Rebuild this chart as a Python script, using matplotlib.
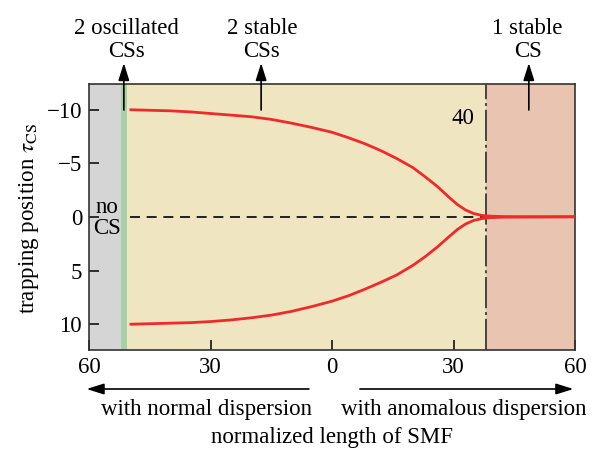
import matplotlib
matplotlib.use("Agg")
import matplotlib.pyplot as plt

plt.rcParams['font.family'] = ['Liberation Serif', 'DejaVu Serif']
plt.rcParams['mathtext.fontset'] = 'stix'
plt.rcParams['font.size'] = 16.5

# ---- data ----
# signed x: negative = normal dispersion side, positive = anomalous side
x_upper = [-50, -45, -40, -35, -30, -25, -20, -15, -10, -5, 0, 4, 8, 12, 16, 20, 23, 26, 29, 31, 33, 35, 37, 39, 42, 48, 60]
tau_upper = [-10.0, -9.95, -9.9, -9.8, -9.65, -9.5, -9.35, -9.1, -8.75, -8.35, -7.9, -7.4, -6.85, -6.2, -5.45,
             -4.6, -3.75, -2.85, -1.8, -1.15, -0.65, -0.32, -0.15, -0.08, -0.04, -0.02, -0.02]
x_lower = [-50, -45, -40, -35, -30, -25, -20, -15, -10, -5, 0, 4, 8, 12, 16, 20, 23, 26, 29, 31, 33, 35, 37, 39, 42, 48, 60]
tau_lower = [10.0, 9.95, 9.9, 9.85, 9.75, 9.6, 9.4, 9.15, 8.8, 8.35, 7.85, 7.35, 6.75, 6.1, 5.4,
             4.5, 3.7, 2.8, 1.8, 1.15, 0.65, 0.32, 0.15, 0.06, 0.02, 0.0, -0.02]

xticks = [-60, -30, 0, 30, 60]
xticklabels = ['60', '30', '0', '30', '60']
yticks = [-10, -5, 0, 5, 10]
yticklabels = ['\u221210', '\u22125', '0', '5', '10']

region_edges = [-60, -52, -50.5, 38, 60]
region_colors = ['#d5d5d5', '#a9cfa9', '#efe5c1', '#e8c4b1']

threshold_x = 38
threshold_label = '40'

fig = plt.figure(figsize=(5.97, 4.51), dpi=100)
ax = fig.add_axes([89/597, 1-350/451, (575-89)/597, (350-84)/451])

for i, c in enumerate(region_colors):
    ax.axvspan(region_edges[i], region_edges[i+1], color=c, lw=0, zorder=0)

ax.plot([-50, threshold_x], [0, 0], color='black', lw=1.2, ls=(0, (6, 4)), zorder=2)
ax.axvline(threshold_x, color='#444444', lw=1.4, ls=(0, (16, 2, 1.5, 2)), zorder=2)

ax.plot(x_upper, tau_upper, color='#ee2a2a', lw=2.0, zorder=3, solid_capstyle='butt')
ax.plot(x_lower, tau_lower, color='#ee2a2a', lw=2.0, zorder=3, solid_capstyle='butt')

ax.set_xlim(-60, 60)
ax.set_ylim(12.4, -12.4)
ax.set_xticks(xticks)
ax.set_xticklabels(xticklabels)
ax.set_yticks(yticks)
ax.set_yticklabels(yticklabels)
ax.tick_params(direction='in', length=7, width=1.1, top=False, right=False, pad=5)
for s in ax.spines.values():
    s.set_color('#333333')
    s.set_linewidth(1.2)

ax.text(32.3, -9.2, threshold_label, ha='center', va='center')
ax.text(-55.5, 0.1, 'no\nCS', ha='center', va='center', linespacing=1.05)

fig.text(29/597, 1-218/451, r'trapping position $\tau_{\mathrm{CS}}$', rotation=90,
         ha='center', va='center')

tr = ax.get_xaxis_transform()
arrow_kw = dict(arrowstyle='-|>,head_length=0.7,head_width=0.22', color='black', lw=1.2,
                mutation_scale=15, shrinkA=0, shrinkB=0)
top_labels = [(-51.4, '2 oscillated\nCSs', -50.7), (-17.5, '2 stable\nCSs', -17.3), (48.6, '1 stable\nCS', 48.3)]
y_arrow_base = (350-110)/266
y_arrow_tip = (350-63)/266
for xa, lab, xt in top_labels:
    ax.annotate('', xy=(xa, y_arrow_tip), xytext=(xa, y_arrow_base), xycoords=tr,
                textcoords=tr, arrowprops=arrow_kw, annotation_clip=False)
    ax.text(xt, (350-62)/266, lab, transform=tr, ha='center', va='bottom',
            linespacing=1.1, clip_on=False)

y_bot_arrow = (350-389)/266
ax.annotate('', xy=(-60.6, y_bot_arrow), xytext=(-5.7, y_bot_arrow), xycoords=tr, textcoords=tr,
            arrowprops=arrow_kw, annotation_clip=False)
ax.annotate('', xy=(59.6, y_bot_arrow), xytext=(6.9, y_bot_arrow), xycoords=tr, textcoords=tr,
            arrowprops=arrow_kw, annotation_clip=False)
ax.text(-30.9, (350-410)/266, 'with normal dispersion', transform=tr, ha='center', va='center')
ax.text(32.6, (350-410)/266, 'with anomalous dispersion', transform=tr, ha='center', va='center')
ax.text(0, (350-437)/266, 'normalized length of SMF', transform=tr, ha='center', va='center')

fig.savefig('out.png', dpi=100)
